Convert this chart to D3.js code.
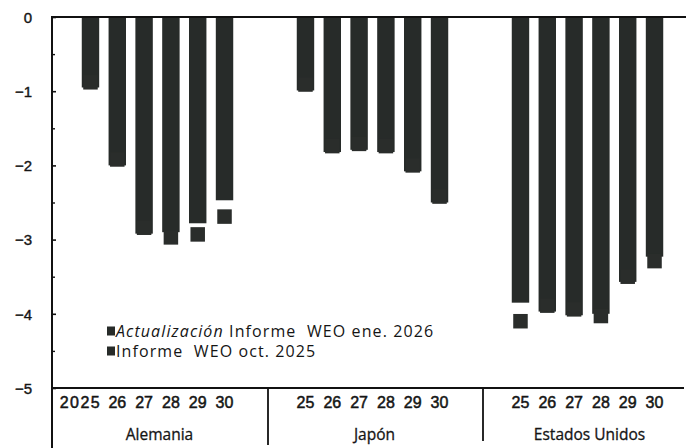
<!DOCTYPE html>
<html>
<head>
<meta charset="utf-8">
<script src="https://cdn.jsdelivr.net/npm/d3@7"></script>
<style>
  html, body { margin: 0; padding: 0; background: #ffffff; }
  svg { display: block; }
  text { fill: #151515; }
</style>
</head>
<body>
<div id="chart"></div>
<script>
// ---- data ----
const countries = ["Alemania", "Japón", "Estados Unidos"];
const years = ["2025", "26", "27", "28", "29", "30"];
const yearLabels = {
  "Alemania": ["2025", "26", "27", "28", "29", "30"],
  "Japón": ["25", "26", "27", "28", "29", "30"],
  "Estados Unidos": ["25", "26", "27", "28", "29", "30"]
};
// Actualización Informe WEO ene. 2026 (bars)
const weoJan2026 = {
  "Alemania": [-0.95, -2.0, -2.92, -2.9, -2.78, -2.47],
  "Japón": [-0.99, -1.82, -1.79, -1.82, -2.08, -2.5],
  "Estados Unidos": [-3.85, -3.97, -4.02, -4.0, -3.57, -3.23]
};
// Informe WEO oct. 2025 (markers)
const weoOct2025 = {
  "Alemania": [-0.88, -1.92, -2.84, -2.97, -2.93, -2.69],
  "Japón": [-0.91, -1.74, -1.71, -1.74, -2.0, -2.42],
  "Estados Unidos": [-4.1, -3.89, -3.94, -4.03, -3.5, -3.29]
};
const yTicks = [0, -1, -2, -3, -4, -5];
const yMinorTicks = [-0.5, -1.5, -2.5, -3.5, -4.5];
const legendLabels = [
  { italic: "Actualización", rest: " Informe  WEO ene. 2026" },
  { italic: "", rest: "Informe  WEO oct. 2025" }
];

// ---- layout ----
const W = 686, H = 448;
const axisX = 52;
const y0px = 17, y5px = 388;
const barColor = "#272b29";
const markColor = "#2a2d2b";

const svg = d3.select("#chart").append("svg")
  .attr("width", W).attr("height", H);

const y = d3.scaleLinear().domain([0, -5]).range([y0px, y5px]);
const x0 = d3.scaleBand().domain(countries).range([50, 695]).padding(0);
const x1 = d3.scaleBand().domain(years).range([0, x0.bandwidth()])
  .paddingInner(0.35).paddingOuter(1.185);

const numFont = "'Liberation Sans Narrow', 'Liberation Sans', Arial, sans-serif";
const axFont = "'Liberation Sans', Arial, sans-serif";
const txtFont = "'Open Sans', 'Noto Sans', sans-serif";

// bars
const groups = svg.append("g").selectAll("g").data(countries).join("g")
  .attr("transform", c => `translate(${x0(c)},0)`);

groups.selectAll("rect.bar")
  .data(c => weoJan2026[c].map((v, i) => ({ yr: years[i], v })))
  .join("rect").attr("class", "bar")
  .attr("x", d => x1(d.yr))
  .attr("width", x1.bandwidth())
  .attr("y", y(0))
  .attr("height", d => y(d.v) - y(0))
  .attr("fill", barColor);

// markers
const ms = 14.5;
groups.selectAll("rect.mk")
  .data(c => weoOct2025[c].map((v, i) => ({ yr: years[i], v })))
  .join("rect").attr("class", "mk")
  .attr("x", d => x1(d.yr) + x1.bandwidth() / 2 - ms / 2)
  .attr("width", ms)
  .attr("y", d => y(d.v) - ms / 2)
  .attr("height", ms)
  .attr("fill", markColor);

// y axis
const yAxis = d3.axisLeft(y).tickValues(yTicks).tickSize(-4).tickPadding(0)
  .tickFormat(d => d === 0 ? "0" : "\u2212" + Math.abs(d));
const gy = svg.append("g").attr("transform", `translate(${axisX},0)`).call(yAxis);
gy.select(".domain").remove();
gy.selectAll(".tick line").attr("stroke", "#111").attr("stroke-width", 1.6);
gy.selectAll(".tick text")
  .attr("x", -20).attr("dy", "0.35em")
  .attr("font-family", axFont).attr("font-size", 15)
  .attr("stroke", "#151515").attr("stroke-width", 0.4)
  .style("fill", "#151515");

const yMinor = d3.axisLeft(y).tickValues(yMinorTicks).tickSize(-3).tickFormat("");
const gym = svg.append("g").attr("transform", `translate(${axisX},0)`).call(yMinor);
gym.select(".domain").remove();
gym.selectAll(".tick line").attr("stroke", "#111").attr("stroke-width", 1.4);

// frame lines
svg.append("line").attr("x1", axisX).attr("x2", axisX).attr("y1", y0px - 1).attr("y2", H)
  .attr("stroke", "#111").attr("stroke-width", 2);
svg.append("line").attr("x1", axisX).attr("x2", 686).attr("y1", y(0)).attr("y2", y(0))
  .attr("stroke", "#111").attr("stroke-width", 2);
svg.append("line").attr("x1", axisX).attr("x2", 684).attr("y1", y(-5)).attr("y2", y(-5))
  .attr("stroke", "#111").attr("stroke-width", 2.2);

// group separators
countries.slice(1).forEach((c, i) => {
  svg.append("line")
    .attr("x1", x0(c) + 3).attr("x2", x0(c) + 3)
    .attr("y1", y(-5)).attr("y2", i === 0 ? 445 : 441)
    .attr("stroke", "#111").attr("stroke-width", 1.8);
});

// year labels
groups.selectAll("text.yr")
  .data(c => yearLabels[c].map((lab, i) => ({ yr: years[i], lab })))
  .join("text").attr("class", "yr")
  .attr("x", d => x1(d.yr) + x1.bandwidth() / 2 + (d.lab.length === 4 ? -10 : 0))
  .attr("y", 402).attr("dy", "0.35em")
  .attr("text-anchor", "middle")
  .attr("font-family", numFont).attr("font-size", 16)
  .attr("stroke", "#151515").attr("stroke-width", 0.5)
  .attr("letter-spacing", d => d.lab.length === 4 ? 1.5 : 0)
  .text(d => d.lab);

// group labels
groups.append("text")
  .attr("x", x0.bandwidth() / 2 + 2).attr("y", 435).attr("dy", "0.35em")
  .attr("text-anchor", "middle")
  .attr("font-family", txtFont).attr("font-size", 15.5)
  .attr("stroke", "#151515").attr("stroke-width", 0.3)
  .text(c => c);

// legend
const lg = svg.append("g");
legendLabels.forEach((l, i) => {
  const ly = 331 + i * 20;
  lg.append("rect").attr("x", 107).attr("y", ly - 4.5).attr("width", 8).attr("height", 9)
    .attr("fill", barColor);
  const t = lg.append("text").attr("x", 116).attr("y", ly).attr("dy", "0.35em")
    .attr("font-family", txtFont).attr("font-size", 16).attr("letter-spacing", 1.1);
  if (l.italic) t.append("tspan").attr("font-style", "italic").text(l.italic);
  t.append("tspan").attr("xml:space", "preserve").style("white-space", "pre").text(l.rest);
});
</script>
</body>
</html>
